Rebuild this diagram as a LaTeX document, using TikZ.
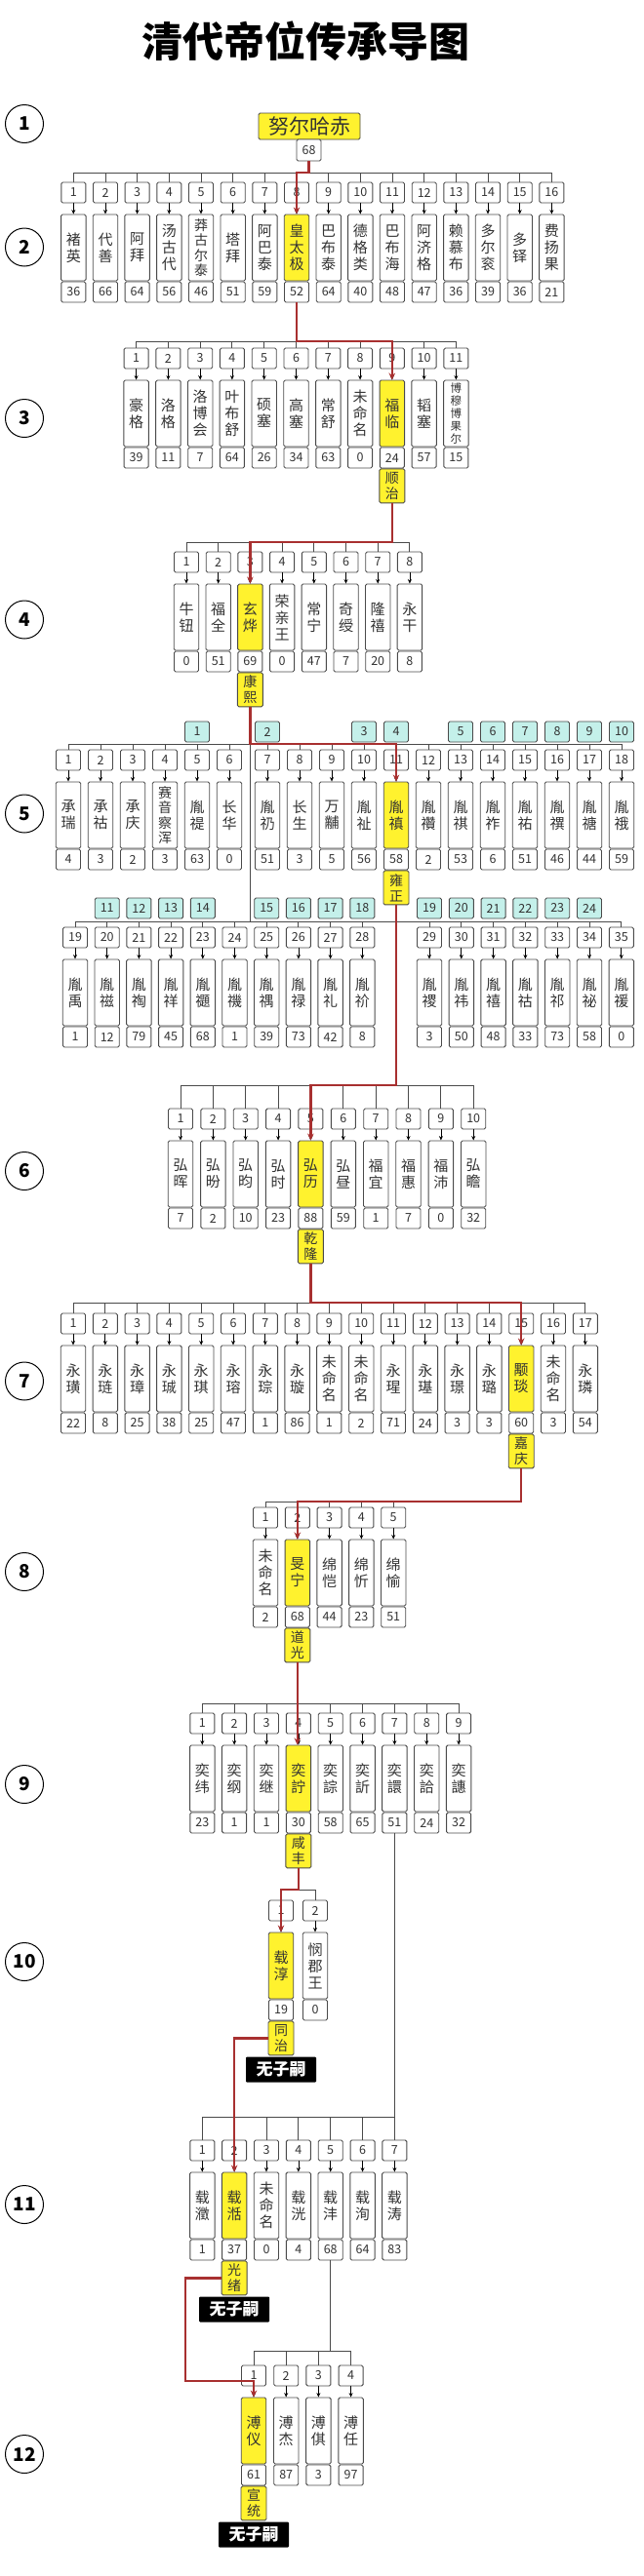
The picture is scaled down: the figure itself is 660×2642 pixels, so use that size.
\documentclass[tikz,border=0pt]{standalone}
\usepackage{fontspec}
\setmainfont{Noto Sans CJK SC}
\usetikzlibrary{arrows.meta}
\definecolor{yel}{HTML}{FFF22E}
\definecolor{tealf}{HTML}{C4F0EA}
\definecolor{redl}{HTML}{A83030}
\definecolor{bord}{HTML}{4A4A4A}
\definecolor{txt}{HTML}{333333}
\tikzset{
 kbox/.style={draw=bord, line width=0.9pt, rounded corners=1.5pt, fill=white, text=txt, inner sep=0pt, align=center},
 numbox/.style={kbox, minimum width=25pt, minimum height=21pt, font=\fontsize{12.5}{13}\selectfont},
 namebox/.style={kbox, minimum width=25.5pt, minimum height=68pt, font=\fontsize{15}{17}\selectfont},
 tealbox/.style={numbox, fill=tealf},
 empbox/.style={kbox, fill=yel, minimum width=26pt, minimum height=35pt, font=\fontsize{14}{16}\selectfont},
 nozi/.style={fill=black, text=white, inner sep=0pt, minimum width=72pt, minimum height=26pt, rounded corners=1pt, font=\bfseries\fontsize{17}{17}\selectfont},
 gen/.style={draw=black, line width=1pt, circle, minimum size=39pt, inner sep=0pt, font=\bfseries\fontsize{19}{19}\selectfont},
 kidarrow/.style={draw=black, line width=0.7pt, -{Stealth[length=4.5pt,width=4pt]}},
 bline/.style={draw=bord, line width=0.9pt},
 redpath/.style={draw=redl, line width=2.4pt, -{Stealth[length=7pt,width=6.5pt]}},
 yelname/.style={fill=yel},
 four/.style={font=\fontsize{14}{15.5}\selectfont},
 five/.style={font=\fontsize{11.5}{13}\selectfont},
}
\newcommand\rowT{0}
\newcommand\kid[6][]{%
  \node[numbox] (n#2-#3) at (#4,\rowT+10.5) {#3};
  \node[namebox,#1] (m#2-#3) at (#4,\rowT+67) {#5};
  \node[numbox] (a#2-#3) at (#4,\rowT+112.5) {#6};
  \draw[kidarrow] (n#2-#3.south) -- (m#2-#3.north);
}
\begin{document}
\begin{tikzpicture}[x=1pt,y=-1pt]
\fill[white] (0,0) rectangle (660,2642);
\useasboundingbox (0,0) rectangle (660,2642);

\node[font=\bfseries\fontsize{42}{42}\selectfont] (title) at (313,42) {清代帝位传承导图};

% generation circles
\node[gen] (g1) at (25,127) {1};
\node[gen] (g2) at (25,253.5) {2};
\node[gen] (g3) at (25,429) {3};
\node[gen] (g4) at (25,635.5) {4};
\node[gen] (g5) at (25,834.5) {5};
\node[gen] (g6) at (25,1201) {6};
\node[gen] (g7) at (25,1416.5) {7};
\node[gen] (g8) at (25,1612) {8};
\node[gen] (g9) at (25,1830) {9};
\node[gen] (g10) at (25,2012) {10};
\node[gen] (g11) at (25,2261) {11};
\node[gen] (g12) at (25,2517) {12};

% generation 1
\node[kbox, fill=yel, minimum width=104pt, minimum height=27pt, font=\fontsize{21}{21}\selectfont] (nu) at (317,129.5) {努尔哈赤};
\node[numbox, minimum height=22pt] (a1) at (316.5,154) {68};

% bracket coordinates
\coordinate (b2) at (0,177);
\coordinate (b3) at (0,350);
\coordinate (b4) at (0,556);
\coordinate (b5a) at (0,763);
\coordinate (b5b) at (0,945);
\coordinate (b6) at (0,1113);
\coordinate (b7) at (0,1336);
\coordinate (b8) at (0,1540);
\coordinate (b9) at (0,1747);
\coordinate (b10) at (0,1938);
\coordinate (b11) at (0,2171);
\coordinate (b12) at (0,2411);

% generation 2
\renewcommand\rowT{187}
\kid{2}{1}{75.3}{褚\\英}{36}
\kid{2}{2}{108.0}{代\\善}{66}
\kid{2}{3}{140.6}{阿\\拜}{64}
\kid{2}{4}{173.3}{汤\\古\\代}{56}
\kid[four]{2}{5}{206.0}{莽\\古\\尔\\泰}{46}
\kid{2}{6}{238.7}{塔\\拜}{51}
\kid{2}{7}{271.3}{阿\\巴\\泰}{59}
\kid[yelname]{2}{8}{304.0}{皇\\太\\极}{52}
\kid{2}{9}{336.7}{巴\\布\\泰}{64}
\kid{2}{10}{369.3}{德\\格\\类}{40}
\kid{2}{11}{402.0}{巴\\布\\海}{48}
\kid{2}{12}{434.7}{阿\\济\\格}{47}
\kid{2}{13}{467.3}{赖\\慕\\布}{36}
\kid{2}{14}{500.0}{多\\尔\\衮}{39}
\kid{2}{15}{532.7}{多\\铎}{36}
\kid{2}{16}{565.4}{费\\扬\\果}{21}

% generation 3
\renewcommand\rowT{357}
\kid{3}{1}{139.6}{豪\\格}{39}
\kid{3}{2}{172.4}{洛\\格}{11}
\kid{3}{3}{205.2}{洛\\博\\会}{7}
\kid{3}{4}{237.9}{叶\\布\\舒}{64}
\kid{3}{5}{270.7}{硕\\塞}{26}
\kid{3}{6}{303.5}{高\\塞}{34}
\kid{3}{7}{336.3}{常\\舒}{63}
\kid{3}{8}{369.1}{未\\命\\名}{0}
\kid[yelname]{3}{9}{401.8}{福\\临}{24}
\kid{3}{10}{434.6}{韬\\塞}{57}
\kid[five]{3}{11}{467.4}{博\\穆\\博\\果\\尔}{15}
\node[empbox, anchor=north] (e3) at (a3-9.south) {顺\\治};

% generation 4
\renewcommand\rowT{566}
\kid{4}{1}{191}{牛\\钮}{0}
\kid{4}{2}{223.7}{福\\全}{51}
\kid[yelname]{4}{3}{256.4}{玄\\烨}{69}
\kid{4}{4}{289.1}{荣\\亲\\王}{0}
\kid{4}{5}{321.8}{常\\宁}{47}
\kid{4}{6}{354.5}{奇\\绶}{7}
\kid{4}{7}{387.2}{隆\\禧}{20}
\kid{4}{8}{419.9}{永\\干}{8}
\node[empbox, anchor=north] (e4) at (a4-3.south) {康\\熙};

% generation 5, first line
\renewcommand\rowT{769}
\kid{5}{1}{70}{承\\瑞}{4}
\kid{5}{2}{103}{承\\祜}{3}
\kid{5}{3}{136}{承\\庆}{2}
\kid[four]{5}{4}{169}{赛\\音\\察\\浑}{3}
\kid{5}{5}{202}{胤\\禔}{63}
\kid{5}{6}{235}{长\\华}{0}
\kid{5}{7}{274}{胤\\礽}{51}
\kid{5}{8}{307}{长\\生}{3}
\kid{5}{9}{340}{万\\黼}{5}
\kid{5}{10}{373}{胤\\祉}{56}
\kid[yelname]{5}{11}{406}{胤\\禛}{58}
\kid{5}{12}{439}{胤\\禶}{2}
\kid{5}{13}{472}{胤\\祺}{53}
\kid{5}{14}{505}{胤\\祚}{6}
\kid{5}{15}{538}{胤\\祐}{51}
\kid{5}{16}{571}{胤\\禩}{46}
\kid{5}{17}{604}{胤\\禟}{44}
\kid{5}{18}{637}{胤\\䄉}{59}
\node[empbox, anchor=north] (e5) at (a5-11.south) {雍\\正};

% generation 5, second line
\renewcommand\rowT{951}
\kid{5}{19}{77}{胤\\禹}{1}
\kid{5}{20}{109.7}{胤\\禌}{12}
\kid{5}{21}{142.4}{胤\\祹}{79}
\kid{5}{22}{175.1}{胤\\祥}{45}
\kid{5}{23}{207.8}{胤\\禵}{68}
\kid{5}{24}{240.5}{胤\\禨}{1}
\kid{5}{25}{273.2}{胤\\禑}{39}
\kid{5}{26}{305.9}{胤\\禄}{73}
\kid{5}{27}{338.6}{胤\\礼}{42}
\kid{5}{28}{371.3}{胤\\祄}{8}
\kid{5}{29}{440}{胤\\禝}{3}
\kid{5}{30}{472.8}{胤\\祎}{50}
\kid{5}{31}{505.6}{胤\\禧}{48}
\kid{5}{32}{538.4}{胤\\祜}{33}
\kid{5}{33}{571.2}{胤\\祁}{73}
\kid{5}{34}{604}{胤\\祕}{58}
\kid{5}{35}{636.8}{胤\\禐}{0}

% ranking boxes
\node[tealbox] (t1) at (202,750.5) {1};
\node[tealbox] (t2) at (274,750.5) {2};
\node[tealbox] (t3) at (373,750.5) {3};
\node[tealbox] (t4) at (406,750.5) {4};
\node[tealbox] (t5) at (472,750.5) {5};
\node[tealbox] (t6) at (505,750.5) {6};
\node[tealbox] (t7) at (538,750.5) {7};
\node[tealbox] (t8) at (571,750.5) {8};
\node[tealbox] (t9) at (604,750.5) {9};
\node[tealbox] (t10) at (637,750.5) {10};
\node[tealbox] (t11) at (109.7,931.5) {11};
\node[tealbox] (t12) at (142.4,931.5) {12};
\node[tealbox] (t13) at (175.1,931.5) {13};
\node[tealbox] (t14) at (207.8,931.5) {14};
\node[tealbox] (t15) at (273.2,931.5) {15};
\node[tealbox] (t16) at (305.9,931.5) {16};
\node[tealbox] (t17) at (338.6,931.5) {17};
\node[tealbox] (t18) at (371.3,931.5) {18};
\node[tealbox] (t19) at (440,931.5) {19};
\node[tealbox] (t20) at (472.8,931.5) {20};
\node[tealbox] (t21) at (505.6,931.5) {21};
\node[tealbox] (t22) at (538.4,931.5) {22};
\node[tealbox] (t23) at (571.2,931.5) {23};
\node[tealbox] (t24) at (604,931.5) {24};

% generation 6
\renewcommand\rowT{1137}
\kid{6}{1}{185}{弘\\晖}{7}
\kid{6}{2}{218.4}{弘\\昐}{2}
\kid{6}{3}{251.7}{弘\\昀}{10}
\kid{6}{4}{285.1}{弘\\时}{23}
\kid[yelname]{6}{5}{318.4}{弘\\历}{88}
\kid{6}{6}{351.8}{弘\\昼}{59}
\kid{6}{7}{385.2}{福\\宜}{1}
\kid{6}{8}{418.5}{福\\惠}{7}
\kid{6}{9}{451.9}{福\\沛}{0}
\kid{6}{10}{485.2}{弘\\瞻}{32}
\node[empbox, anchor=north] (e6) at (a6-5.south) {乾\\隆};

% generation 7
\renewcommand\rowT{1347}
\kid{7}{1}{75}{永\\璜}{22}
\kid{7}{2}{107.8}{永\\琏}{8}
\kid{7}{3}{140.6}{永\\璋}{25}
\kid{7}{4}{173.4}{永\\珹}{38}
\kid{7}{5}{206.2}{永\\琪}{25}
\kid{7}{6}{239}{永\\瑢}{47}
\kid{7}{7}{271.8}{永\\琮}{1}
\kid{7}{8}{304.6}{永\\璇}{86}
\kid{7}{9}{337.4}{未\\命\\名}{1}
\kid{7}{10}{370.2}{未\\命\\名}{2}
\kid{7}{11}{403}{永\\瑆}{71}
\kid{7}{12}{435.8}{永\\璂}{24}
\kid{7}{13}{468.6}{永\\璟}{3}
\kid{7}{14}{501.4}{永\\璐}{3}
\kid[yelname]{7}{15}{534.2}{颙\\琰}{60}
\kid{7}{16}{567}{未\\命\\名}{3}
\kid{7}{17}{599.8}{永\\璘}{54}
\node[empbox, anchor=north] (e7) at (a7-15.south) {嘉\\庆};

% generation 8
\renewcommand\rowT{1546}
\kid{8}{1}{272}{未\\命\\名}{2}
\kid[yelname]{8}{2}{304.8}{旻\\宁}{68}
\kid{8}{3}{337.6}{绵\\恺}{44}
\kid{8}{4}{370.4}{绵\\忻}{23}
\kid{8}{5}{403.2}{绵\\愉}{51}
\node[empbox, anchor=north] (e8) at (a8-2.south) {道\\光};

% generation 9
\renewcommand\rowT{1757}
\kid{9}{1}{207.3}{奕\\纬}{23}
\kid{9}{2}{240.15}{奕\\纲}{1}
\kid{9}{3}{273}{奕\\继}{1}
\kid[yelname]{9}{4}{305.85}{奕\\詝}{30}
\kid{9}{5}{338.7}{奕\\誴}{58}
\kid{9}{6}{371.55}{奕\\訢}{65}
\kid{9}{7}{404.4}{奕\\譞}{51}
\kid{9}{8}{437.25}{奕\\詥}{24}
\kid{9}{9}{470.1}{奕\\譓}{32}
\node[empbox, anchor=north] (e9) at (a9-4.south) {咸\\丰};

% generation 10
\renewcommand\rowT{1949}
\kid[yelname]{10}{1}{288}{载\\淳}{19}
\kid{10}{2}{323}{悯\\郡\\王}{0}
\node[empbox, anchor=north] (e10) at (a10-1.south) {同\\治};
\node[nozi, anchor=north] (z10) at ([yshift=-1pt]e10.south) {无子嗣};

% generation 11
\renewcommand\rowT{2195}
\kid{11}{1}{207.3}{载\\瀓}{1}
\kid[yelname]{11}{2}{240.15}{载\\湉}{37}
\kid{11}{3}{273}{未\\命\\名}{0}
\kid{11}{4}{305.85}{载\\洸}{4}
\kid{11}{5}{338.7}{载\\沣}{68}
\kid{11}{6}{371.55}{载\\洵}{64}
\kid{11}{7}{404.4}{载\\涛}{83}
\node[empbox, anchor=north] (e11) at (a11-2.south) {光\\绪};
\node[nozi, anchor=north] (z11) at ([yshift=-1pt]e11.south) {无子嗣};

% generation 12
\renewcommand\rowT{2426}
\kid[yelname]{12}{1}{260}{溥\\仪}{61}
\kid{12}{2}{293.2}{溥\\杰}{87}
\kid{12}{3}{326.4}{溥\\倛}{3}
\kid{12}{4}{359.6}{溥\\任}{97}
\node[empbox, anchor=north] (e12) at (a12-1.south) {宣\\统};
\node[nozi, anchor=north] (z12) at ([yshift=-1pt]e12.south) {无子嗣};

% brackets
\draw[bline] (n2-1.north |- b2) -- (n2-16.north |- b2);
\foreach \k in {1,...,16} \draw[bline] (n2-\k.north) -- (n2-\k.north |- b2);
\draw[bline] (n3-1.north |- b3) -- (n3-11.north |- b3);
\foreach \k in {1,...,11} \draw[bline] (n3-\k.north) -- (n3-\k.north |- b3);
\draw[bline] (n4-1.north |- b4) -- (n4-8.north |- b4);
\foreach \k in {1,...,8} \draw[bline] (n4-\k.north) -- (n4-\k.north |- b4);
\draw[bline] (n5-1.north |- b5a) -- (n5-18.north |- b5a);
\foreach \k in {1,...,18} \draw[bline] (n5-\k.north) -- (n5-\k.north |- b5a);
\draw[bline] (n5-19.north |- b5b) -- (n5-35.north |- b5b);
\foreach \k in {19,...,35} \draw[bline] (n5-\k.north) -- (n5-\k.north |- b5b);
\draw[bline] (n6-1.north |- b6) -- (n6-10.north |- b6);
\foreach \k in {1,...,10} \draw[bline] (n6-\k.north) -- (n6-\k.north |- b6);
\draw[bline] (n7-1.north |- b7) -- (n7-17.north |- b7);
\foreach \k in {1,...,17} \draw[bline] (n7-\k.north) -- (n7-\k.north |- b7);
\draw[bline] (n8-1.north |- b8) -- (n8-5.north |- b8);
\foreach \k in {1,...,5} \draw[bline] (n8-\k.north) -- (n8-\k.north |- b8);
\draw[bline] (n9-1.north |- b9) -- (n9-9.north |- b9);
\foreach \k in {1,...,9} \draw[bline] (n9-\k.north) -- (n9-\k.north |- b9);
\draw[bline] (n10-1.north |- b10) -- (n10-2.north |- b10);
\foreach \k in {1,2} \draw[bline] (n10-\k.north) -- (n10-\k.north |- b10);
\draw[bline] (n11-1.north |- b11) -- (n11-7.north |- b11);
\foreach \k in {1,...,7} \draw[bline] (n11-\k.north) -- (n11-\k.north |- b11);
\draw[bline] (n12-1.north |- b12) -- (n12-4.north |- b12);
\foreach \k in {1,...,4} \draw[bline] (n12-\k.north) -- (n12-\k.north |- b12);

% black parent links
\draw[bline] (e4.south) -- (e4.south |- b5b);
\draw[bline] (a9-7.south) -- (a9-7.south |- b11);
\draw[bline] (a11-5.south) -- (a11-5.south |- b12);

% red succession line
\draw[redpath] (a1.south) -- (a1.south |- b2) -| (m2-8.north);
\draw[redpath] (a2-8.south) -- (a2-8.south |- b3) -| (m3-9.north);
\draw[redpath] (e3.south) -- (e3.south |- b4) -| (m4-3.north);
\draw[redpath] (e4.south) -- (e4.south |- b5a) -| (m5-11.north);
\draw[redpath] (e5.south) -- (e5.south |- b6) -| (m6-5.north);
\draw[redpath] (e6.south) -- (e6.south |- b7) -| (m7-15.north);
\draw[redpath] (e7.south) -- (e7.south |- b8) -| (m8-2.north);
\draw[redpath] (e8.south) -- (e8.south |- m9-4.north);
\draw[redpath] (e9.south) -- (e9.south |- b10) -| (m10-1.north);
\draw[redpath] (e10.west) -| (m11-2.north);
\coordinate (r11) at (190,2442);
\draw[redpath] (e11.west) -| (r11) -- (r11 -| m12-1.north) -- (m12-1.north);
\end{tikzpicture}
\end{document}
